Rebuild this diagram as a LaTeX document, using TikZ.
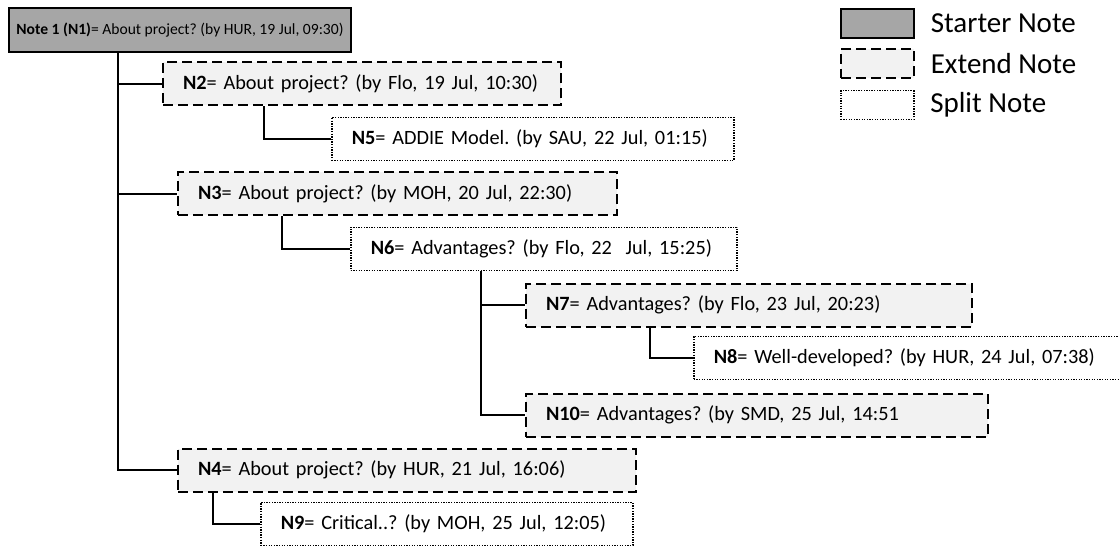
\documentclass[tikz,border=0pt]{standalone}
\usepackage{fontspec}
\setmainfont{Carlito}
\definecolor{startgray}{HTML}{A6A6A6}
\definecolor{extendgray}{HTML}{F2F2F2}
\begin{document}
\frenchspacing
\begin{tikzpicture}[x=1pt,y=-1pt,line width=1.6pt,
  note/.style={anchor=west,minimum height=43pt,inner xsep=20pt,align=left,
    font=\fontsize{20.3}{24}\selectfont},
  starter/.style={anchor=west,draw,fill=startgray,line width=2pt,inner xsep=0pt,
    minimum height=44pt,font=\fontsize{15.6}{19}\selectfont},
  extend/.style={note,draw,fill=extendgray,line width=2pt,dash pattern=on 10pt off 5pt},
  split/.style={note,draw,fill=white,line width=1.5pt,dash pattern=on 1.3pt off 1.3pt},
  keybox/.style={anchor=north west,minimum width=73pt,minimum height=29pt,inner sep=0pt},
  keytext/.style={anchor=west,font=\fontsize{29}{34}\selectfont,inner sep=0pt}]
  \useasboundingbox (0,0) rectangle (1119,548);
  \clip (0,0) rectangle (1119,548);
  \node[starter,minimum width=342pt] (n1) at (8,30) {\textbf{Note 1 (N1)}= About project? (by HUR, 19 Jul, 09:30)};
  \node[extend,text width=358pt] (n2) at (162,84) {\mbox{\textbf{N2}= About project? (by Flo, 19 Jul, 10:30)}};
  \node[split,text width=362pt] (n5) at (331,139) {\mbox{\textbf{N5}= ADDIE Model. (by SAU, 22 Jul, 01:15)}};
  \node[extend,text width=399pt] (n3) at (177,194) {\mbox{\textbf{N3}= About project? (by MOH, 20 Jul, 22:30)}};
  \node[split,text width=346pt] (n6) at (350,249) {\mbox{\textbf{N6}= Advantages? (by Flo, 22\ \ Jul, 15:25)}};
  \node[extend,text width=406pt] (n7) at (525,305) {\mbox{\textbf{N7}= Advantages? (by Flo, 23 Jul, 20:23)}};
  \node[split,text width=400pt] (n8) at (693,358) {\mbox{\textbf{N8}= Well-developed? (by HUR, 24 Jul, 07:38)}};
  \node[extend,text width=422pt] (n10) at (525,415) {\mbox{\textbf{N10}= Advantages? (by SMD, 25 Jul, 14:51}};
  \node[extend,text width=418pt] (n4) at (177,470) {\mbox{\textbf{N4}= About project? (by HUR, 21 Jul, 16:06)}};
  \node[split,text width=332pt] (n9) at (260,524) {\mbox{\textbf{N9}= Critical..? (by MOH, 25 Jul, 12:05)}};
  \draw ([xshift=110pt]n1.south west) |- (n2.west);
  \draw ([xshift=110pt]n1.south west) |- (n3.west);
  \draw ([xshift=110pt]n1.south west) |- (n4.west);
  \draw ([xshift=102pt]n2.south west) |- (n5.west);
  \draw ([xshift=105pt]n3.south west) |- (n6.west);
  \draw ([xshift=131pt]n6.south west) |- (n7.west);
  \draw ([xshift=131pt]n6.south west) |- (n10.west);
  \draw ([xshift=125pt]n7.south west) |- (n8.west);
  \draw ([xshift=36pt]n4.south west) |- (n9.west);
  \node[keybox,draw,fill=startgray,line width=2pt] (kstart) at (840,8) {};
  \node[keybox,draw,fill=extendgray,line width=2pt,dash pattern=on 10pt off 5pt] (kextend) at (840,48) {};
  \node[keybox,draw,fill=white,line width=1.5pt,dash pattern=on 1.3pt off 1.3pt] (ksplit) at (840,90) {};
  \node[keytext] (lstart) at ([xshift=15pt]kstart.east) {Starter Note};
  \node[keytext] (lextend) at ([xshift=15pt]kextend.east) {Extend Note};
  \node[keytext] (lsplit) at ([xshift=15pt]ksplit.east) {Split Note};
\end{tikzpicture}
\end{document}
